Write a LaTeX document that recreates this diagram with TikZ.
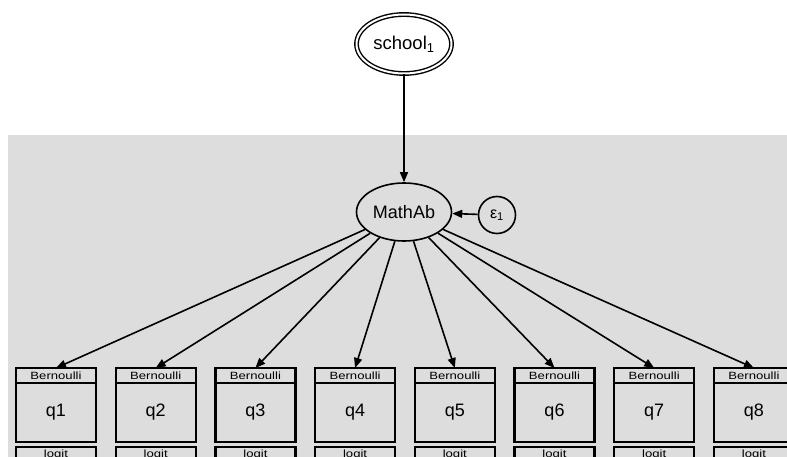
\documentclass[tikz,border=0pt]{standalone}
\usepackage{fontspec}
\setmainfont{Liberation Sans}
\newfontfamily\smallfam[FakeStretch=1.25]{Liberation Sans}
\usepackage{tikz}
\usepackage{xcolor}
\usetikzlibrary{positioning,shapes,arrows.meta}
\definecolor{panelgray}{gray}{0.865}

\begin{document}
\begin{tikzpicture}[x=1pt,y=1pt]
\tikzstyle{every node}+=[inner sep=0pt]
\tikzset{
  group/.style={ellipse,draw=black,double,double distance=2pt,line width=1.4pt,
    minimum width=95,minimum height=59,font=\fontsize{18.5}{20}\selectfont},
  latent/.style={ellipse,draw=black,line width=1.6pt,
    minimum width=95,minimum height=58,font=\fontsize{18}{20}\selectfont},
  errnode/.style={circle,draw=black,line width=1.6pt,minimum size=37,
    font=\fontsize{16}{18}\selectfont},
  famband/.style={rectangle,draw=black,line width=2.2pt,outer sep=0pt,
    minimum width=80,minimum height=15,font=\smallfam\fontsize{10.5}{11}\selectfont},
  obsbox/.style={rectangle,draw=black,line width=2.2pt,outer sep=0pt,
    minimum width=80,minimum height=59,font=\fontsize{18}{20}\selectfont},
  linkbox/.style={rectangle,draw=black,line width=2.2pt,outer sep=0pt,
    minimum width=80,minimum height=30,
    label={[anchor=north,yshift=-2.5pt,font=\smallfam\fontsize{10.5}{11}\selectfont]north:logit}},
  path/.style={draw=black,line width=1.6pt,-{Triangle[length=10pt,width=8pt]}}
}
\useasboundingbox (0,0) rectangle (787,-457);
\clip (0,0) rectangle (787,-457);
% multilevel panel
\fill [panelgray] (8,-135) rectangle (800,-470);
% school level
\node [group] (school) at (404,-44) {school\textsubscript{1}};
\node [latent] (mathab) at (404,-212) {MathAb};
\node [errnode] (e1) at (497,-215) {ε\textsubscript{1}};
% items q1..q8
\node [famband] (b1) at (56,-375.5) {Bernoulli};
\node [obsbox,below=0pt of b1] (q1) {q1};
\node [linkbox,below=5pt of q1] (l1) {};
\node [famband] (b2) at (155.7,-375.5) {Bernoulli};
\node [obsbox,below=0pt of b2] (q2) {q2};
\node [linkbox,below=5pt of q2] (l2) {};
\node [famband] (b3) at (255.4,-375.5) {Bernoulli};
\node [obsbox,below=0pt of b3] (q3) {q3};
\node [linkbox,below=5pt of q3] (l3) {};
\node [famband] (b4) at (355.1,-375.5) {Bernoulli};
\node [obsbox,below=0pt of b4] (q4) {q4};
\node [linkbox,below=5pt of q4] (l4) {};
\node [famband] (b5) at (454.8,-375.5) {Bernoulli};
\node [obsbox,below=0pt of b5] (q5) {q5};
\node [linkbox,below=5pt of q5] (l5) {};
\node [famband] (b6) at (554.5,-375.5) {Bernoulli};
\node [obsbox,below=0pt of b6] (q6) {q6};
\node [linkbox,below=5pt of q6] (l6) {};
\node [famband] (b7) at (654.2,-375.5) {Bernoulli};
\node [obsbox,below=0pt of b7] (q7) {q7};
\node [linkbox,below=5pt of q7] (l7) {};
\node [famband] (b8) at (753.9,-375.5) {Bernoulli};
\node [obsbox,below=0pt of b8] (q8) {q8};
\node [linkbox,below=5pt of q8] (l8) {};
% paths
\draw [path] (school) -- (mathab);
\draw [path] (e1) -- (mathab);
\draw [path] (mathab) -- (b1.north);
\draw [path] (mathab) -- (b2.north);
\draw [path] (mathab) -- (b3.north);
\draw [path] (mathab) -- (b4.north);
\draw [path] (mathab) -- (b5.north);
\draw [path] (mathab) -- (b6.north);
\draw [path] (mathab) -- (b7.north);
\draw [path] (mathab) -- (b8.north);
\end{tikzpicture}
\end{document}
